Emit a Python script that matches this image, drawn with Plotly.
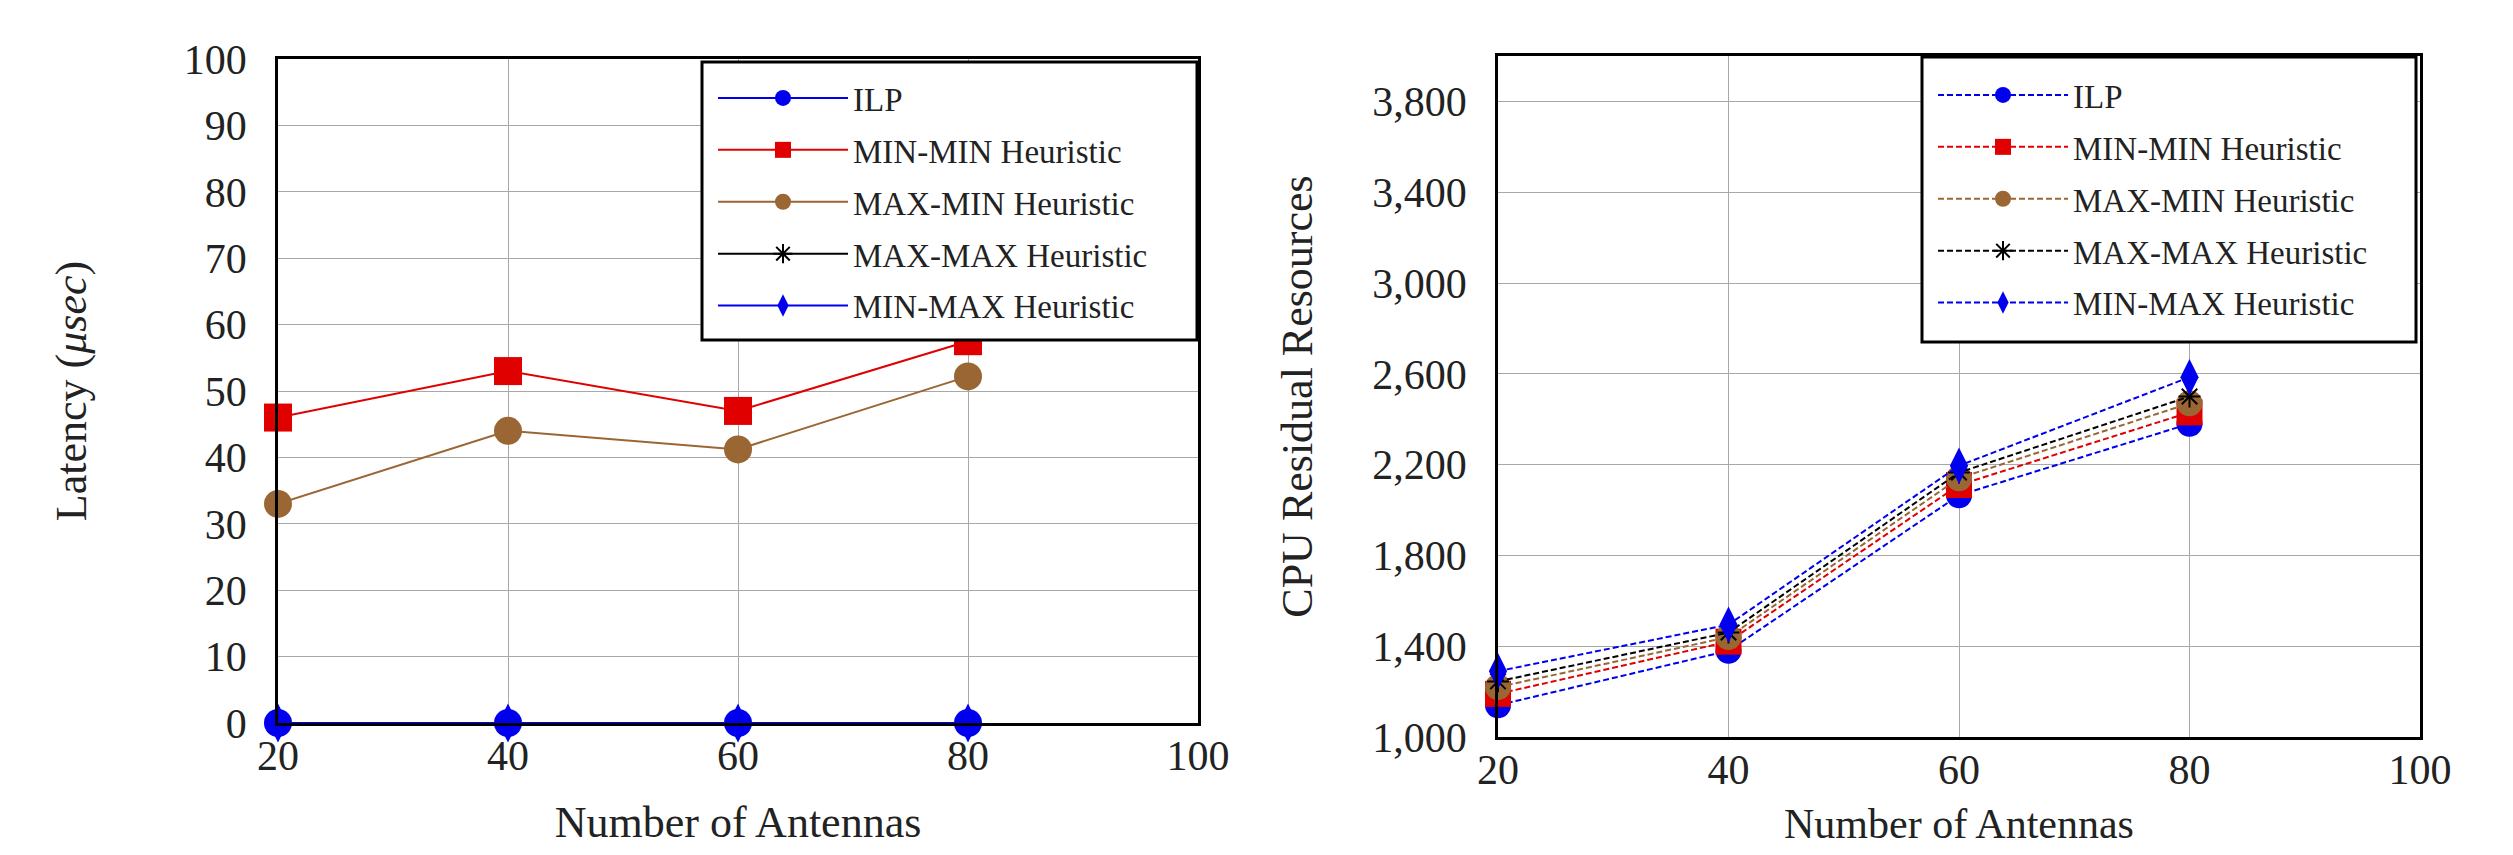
import plotly.graph_objects as go

# ---------------- data ----------------
antennas = [20, 40, 60, 80]
series_names = ["ILP", "MIN-MIN Heuristic", "MAX-MIN Heuristic", "MAX-MAX Heuristic", "MIN-MAX Heuristic"]

# Left panel: latency (usec)
lat_ilp = [0, 0, 0, 0]
lat_minmin = [46, 53, 47, 57.5]
lat_maxmin = [33, 44, 41.2, 52.2]
lat_maxmax = [0, 0, 0, 0]
lat_minmax = [0, 0, 0, 0]

# Right panel: CPU residual resources
cpu_ilp = [1140, 1380, 2065, 2380]
cpu_minmin = [1190, 1420, 2110, 2430]
cpu_maxmin = [1220, 1440, 2140, 2470]
cpu_maxmax = [1245, 1460, 2165, 2500]
cpu_minmax = [1290, 1495, 2195, 2585]

left_yticks = [0, 10, 20, 30, 40, 50, 60, 70, 80, 90, 100]
right_yticks = [1000, 1400, 1800, 2200, 2600, 3000, 3400, 3800]
xticks = [20, 40, 60, 80, 100]

# ---------------- styles ----------------
BLUE = "#0000ee"
RED = "#e00000"
BROWN = "#9a6634"
BLACK = "#000000"
FONT = "Liberation Serif"
TXT = "#222222"

styles = [
    dict(color=BLUE, symbol="circle"),
    dict(color=RED, symbol="square"),
    dict(color=BROWN, symbol="circle"),
    dict(color=BLACK, symbol="asterisk"),
    dict(color=BLUE, symbol="diamond-tall"),
]

fig = go.Figure()

left_data = [lat_ilp, lat_minmin, lat_maxmin, lat_maxmax, lat_minmax]
right_data = [cpu_ilp, cpu_minmin, cpu_maxmin, cpu_maxmax, cpu_minmax]


def marker_for(st, size):
    if st["symbol"] == "asterisk":
        return dict(symbol="asterisk", size=size * 0.7, color=st["color"],
                    line=dict(color=st["color"], width=2))
    return dict(symbol=st["symbol"], size=size, color=st["color"],
                line=dict(width=0))


# left panel: draw zero-valued MAX-MAX / MIN-MAX first so ILP sits on top
left_order = [3, 4, 1, 2, 0]
for i in left_order:
    st = styles[i]
    fig.add_trace(go.Scatter(
        x=antennas, y=left_data[i], name=series_names[i], mode="lines+markers",
        line=dict(color=st["color"], width=2),
        marker=marker_for(st, 28), cliponaxis=False,
        xaxis="x", yaxis="y", legend="legend", legendgroup="L%d" % i,
        legendrank=i + 1,
    ))

for i in range(5):
    st = styles[i]
    fig.add_trace(go.Scatter(
        x=antennas, y=right_data[i], name=series_names[i], mode="lines+markers",
        line=dict(color=st["color"], width=2, dash="6px,3px"),
        marker=marker_for(st, 26), cliponaxis=False,
        xaxis="x2", yaxis="y2", legend="legend2", legendgroup="R%d" % i,
        legendrank=i + 1,
    ))

# page body has an 8px default margin -> figure is offset by 8px
OFF = 8
W, H = 2513 - 2 * OFF, 855 - 2 * OFF


def px(x):
    return (x - OFF) / W


def py(y):
    return 1 - (y - OFF) / H


axis_common = dict(
    showline=True, mirror=True, linecolor="black", linewidth=2.5,
    showgrid=True, gridcolor="#a8a8a8", gridwidth=1, zeroline=False,
    ticks="", tickfont=dict(family=FONT, size=42, color=TXT),
    automargin=False,
)

legend_common = dict(
    bgcolor="rgba(0,0,0,0)", borderwidth=0,
    font=dict(family=FONT, size=33, color=TXT),
    xanchor="left", yanchor="top", tracegroupgap=6,
    itemsizing="trace", orientation="v", itemwidth=130,
)

title_font = dict(family=FONT, size=44, color=TXT)

fig.update_layout(
    width=W, height=H,
    margin=dict(l=0, r=0, t=0, b=0, autoexpand=False),
    paper_bgcolor="white", plot_bgcolor="white",
    showlegend=True,
    xaxis=dict(domain=[px(278), px(1198)], range=[20, 100], tickvals=xticks,
               title=dict(text="Number of Antennas", font=title_font, standoff=60),
               ticklabelstandoff=-6, anchor="y", **axis_common),
    yaxis=dict(domain=[py(723), py(59)], range=[0, 100], tickvals=left_yticks,
               title=dict(text="Latency (<i>μsec</i>)", font=title_font, standoff=84),
               ticklabelstandoff=20, anchor="x", **axis_common),
    xaxis2=dict(domain=[px(1498), px(2420)], range=[20, 100], tickvals=xticks,
                title=dict(text="Number of Antennas", font=dict(family=FONT, size=42, color=TXT), standoff=52),
                ticklabelstandoff=-6, anchor="y2", **axis_common),
    yaxis2=dict(domain=[py(737), py(56)], range=[1000, 4000], tickvals=right_yticks, tickformat=",d",
                title=dict(text="CPU Residual Resources", font=title_font, standoff=46),
                ticklabelstandoff=20, anchor="x2", **axis_common),
    legend=dict(x=px(713), y=py(70), **legend_common),
    legend2=dict(x=px(1933), y=py(67), **legend_common),
    shapes=[
        dict(type="rect", xref="paper", yref="paper", x0=px(702), x1=px(1197), y0=py(340), y1=py(62),
             line=dict(color="black", width=3), fillcolor="white", layer="above"),
        dict(type="rect", xref="paper", yref="paper", x0=px(1922), x1=px(2416), y0=py(342), y1=py(57),
             line=dict(color="black", width=3), fillcolor="white", layer="above"),
    ],
)

fig.write_html("out.html")
